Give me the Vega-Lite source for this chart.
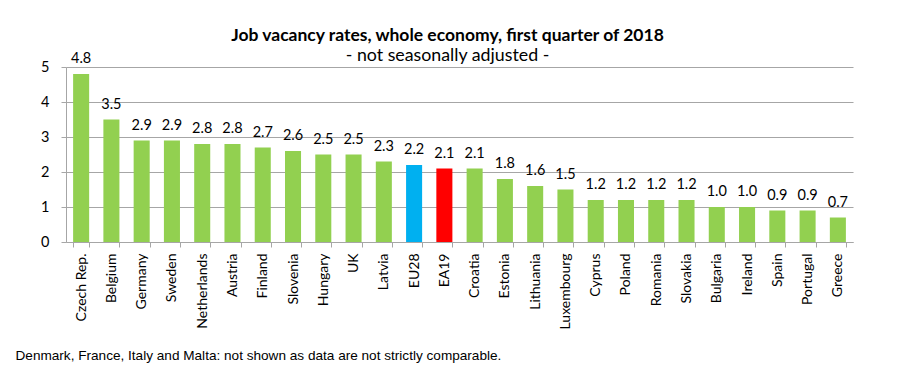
{
  "$schema": "https://vega.github.io/schema/vega-lite/v6.json",
  "width": 787,
  "height": 175,
  "autosize": "none",
  "padding": {"left": 66, "top": 67, "right": 47, "bottom": 132},
  "background": "white",
  "title": {
    "text": "Job vacancy rates, whole economy, first quarter of 2018",
    "subtitle": "- not seasonally adjusted -",
    "anchor": "middle",
    "frame": "group",
    "dx": -12,
    "offset": -14,
    "font": "Lato",
    "fontSize": 17.5,
    "fontWeight": "bold",
    "color": "#000000",
    "subtitleFont": "Lato",
    "subtitleFontSize": 17.8,
    "subtitleColor": "#000000",
    "subtitlePadding": 3
  },
  "config": {
    "view": {"stroke": null},
    "axis": {"labelFont": "Lato", "labelColor": "#000000"}
  },
  "data": {
    "values": [
      {"country": "Czech Rep.", "rate": 4.8, "group": "country"},
      {"country": "Belgium", "rate": 3.5, "group": "country"},
      {"country": "Germany", "rate": 2.9, "group": "country"},
      {"country": "Sweden", "rate": 2.9, "group": "country"},
      {"country": "Netherlands", "rate": 2.8, "group": "country"},
      {"country": "Austria", "rate": 2.8, "group": "country"},
      {"country": "Finland", "rate": 2.7, "group": "country"},
      {"country": "Slovenia", "rate": 2.6, "group": "country"},
      {"country": "Hungary", "rate": 2.5, "group": "country"},
      {"country": "UK", "rate": 2.5, "group": "country"},
      {"country": "Latvia", "rate": 2.3, "group": "country"},
      {"country": "EU28", "rate": 2.2, "group": "EU28"},
      {"country": "EA19", "rate": 2.1, "group": "EA19"},
      {"country": "Croatia", "rate": 2.1, "group": "country"},
      {"country": "Estonia", "rate": 1.8, "group": "country"},
      {"country": "Lithuania", "rate": 1.6, "group": "country"},
      {"country": "Luxembourg", "rate": 1.5, "group": "country"},
      {"country": "Cyprus", "rate": 1.2, "group": "country"},
      {"country": "Poland", "rate": 1.2, "group": "country"},
      {"country": "Romania", "rate": 1.2, "group": "country"},
      {"country": "Slovakia", "rate": 1.2, "group": "country"},
      {"country": "Bulgaria", "rate": 1.0, "group": "country"},
      {"country": "Ireland", "rate": 1.0, "group": "country"},
      {"country": "Spain", "rate": 0.9, "group": "country"},
      {"country": "Portugal", "rate": 0.9, "group": "country"},
      {"country": "Greece", "rate": 0.7, "group": "country"}
    ]
  },
  "encoding": {
    "x": {
      "field": "country",
      "type": "nominal",
      "sort": null,
      "scale": {"paddingInner": 0.47, "paddingOuter": 0.235},
      "axis": {
        "title": "Denmark, France, Italy and Malta: not shown as data are not strictly comparable.",
        "titleFont": "Liberation Sans",
        "titleFontSize": 13.6,
        "titleFontWeight": "normal",
        "titleColor": "#000000",
        "titleAnchor": "start",
        "titleAlign": "left",
        "titleBaseline": "middle",
        "titleX": -51,
        "titleY": 113,
        "labelAngle": -90,
        "labelAlign": "right",
        "labelBaseline": "middle",
        "labelFontSize": 14,
        "labelPadding": 6,
        "tickBand": "extent",
        "tickSize": 5,
        "tickColor": "#a6a6a6",
        "domainColor": "#a6a6a6",
        "grid": false
      }
    },
    "y": {
      "field": "rate",
      "type": "quantitative",
      "scale": {"domain": [0, 5]},
      "axis": {
        "title": null,
        "values": [0, 1, 2, 3, 4, 5],
        "format": "d",
        "labelFontSize": 14.5,
        "labelPadding": 12,
        "tickSize": 5,
        "tickColor": "#a6a6a6",
        "domainColor": "#a6a6a6",
        "gridColor": "#a6a6a6",
        "gridWidth": 1.2
      }
    }
  },
  "layer": [
    {
      "mark": {"type": "bar"},
      "encoding": {
        "color": {
          "field": "group",
          "type": "nominal",
          "scale": {"domain": ["country", "EU28", "EA19"], "range": ["#92d050", "#00b0f0", "#ff0000"]},
          "legend": null
        }
      }
    },
    {
      "mark": {"type": "text", "baseline": "alphabetic", "dy": -11, "font": "Lato", "fontSize": 14.5, "color": "#000000"},
      "encoding": {
        "text": {"field": "rate", "type": "quantitative", "format": ".1f"}
      }
    }
  ]
}
